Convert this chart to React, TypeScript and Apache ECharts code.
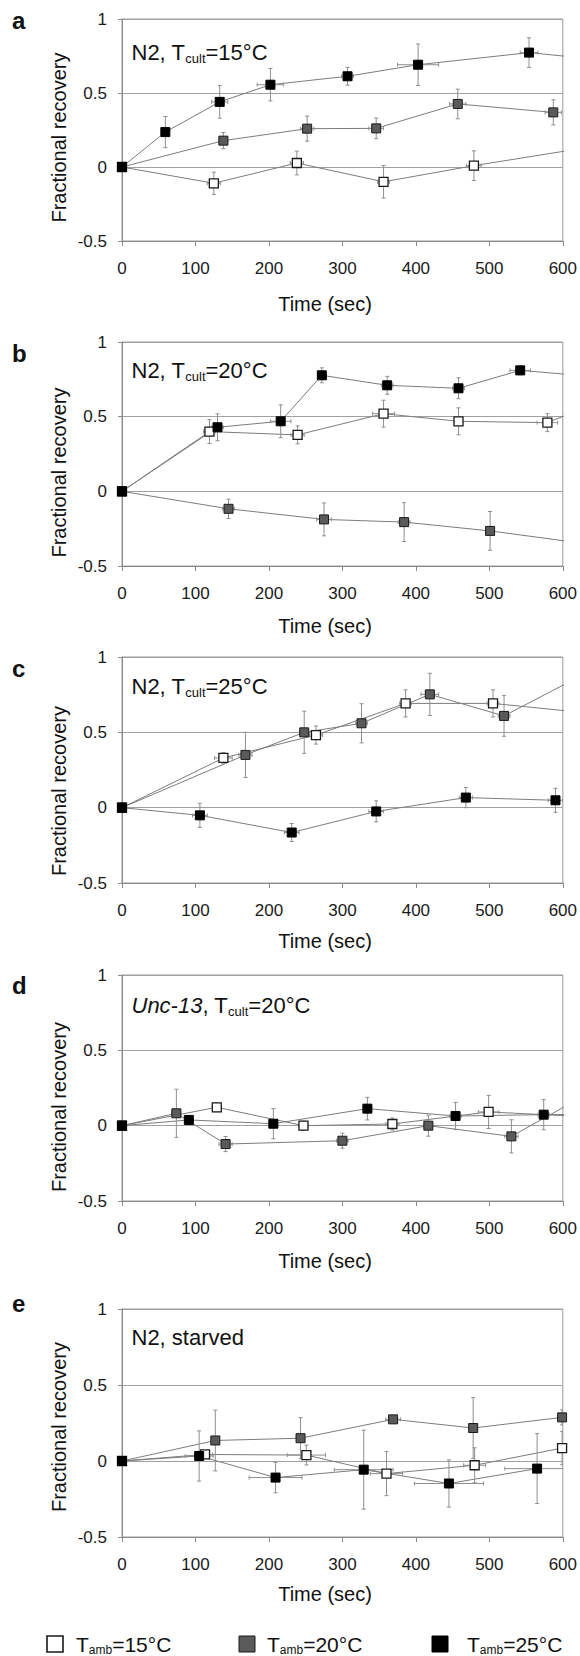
import React, { useEffect, useRef } from "react";
import * as echarts from "echarts";

// [time (s), fractional recovery, y error, x error]
type Pt = [number, number, number, number];

// Panel a: N2, Tcult=15°C
const a15: Pt[] = [[0, 0, 0, 0], [125, -0.11, 0.075, 9], [238, 0.027, 0.08, 9], [356, -0.1, 0.11, 8], [479, 0.009, 0.1, 10], [625, 0.125, 0, 0]];
const a20: Pt[] = [[0, 0, 0, 0], [138, 0.178, 0.055, 6], [252, 0.259, 0.085, 9], [346, 0.261, 0.07, 10], [457, 0.426, 0.1, 11], [587, 0.369, 0.085, 11]];
const a25: Pt[] = [[0, 0, 0, 0], [59, 0.236, 0.105, 0], [133, 0.44, 0.11, 11], [202, 0.556, 0.11, 18], [307, 0.613, 0.06, 8], [403, 0.691, 0.14, 28], [554, 0.773, 0.1, 12], [650, 0.725, 0, 0]];

// Panel b: N2, Tcult=20°C
const b15: Pt[] = [[0, 0, 0, 0], [119, 0.4, 0.08, 8], [239, 0.378, 0.06, 9], [356, 0.52, 0.09, 15], [458, 0.469, 0.09, 6], [579, 0.46, 0.06, 14], [620, 0.54, 0, 0]];
const b20: Pt[] = [[0, 0, 0, 0], [145, -0.117, 0.065, 8], [275, -0.188, 0.11, 10], [384, -0.206, 0.13, 8], [501, -0.265, 0.13, 6], [650, -0.363, 0, 0]];
const b25: Pt[] = [[0, 0, 0, 0], [130, 0.429, 0.09, 8], [216, 0.469, 0.11, 14], [272, 0.777, 0.05, 5], [361, 0.71, 0.06, 8], [458, 0.69, 0.07, 8], [542, 0.81, 0.03, 14], [650, 0.765, 0, 0]];

// Panel c: N2, Tcult=25°C
const c15: Pt[] = [[0, 0, 0, 0], [138, 0.33, 0.035, 12], [264, 0.482, 0.06, 9], [386, 0.692, 0.09, 8], [505, 0.692, 0.09, 8], [650, 0.62, 0, 0]];
const c20: Pt[] = [[0, 0, 0, 0], [168, 0.35, 0.15, 9], [248, 0.5, 0.14, 6], [326, 0.56, 0.13, 8], [419, 0.752, 0.14, 12], [520, 0.609, 0.135, 8], [605, 0.825, 0, 0]];
const c25: Pt[] = [[0, 0, 0, 0], [106, -0.051, 0.08, 10], [231, -0.165, 0.06, 10], [346, -0.025, 0.07, 10], [468, 0.067, 0.067, 9], [590, 0.049, 0.08, 10]];

// Panel d: Unc-13, Tcult=20°C
const d15: Pt[] = [[0, 0, 0, 0], [129, 0.122, 0.03, 6], [247, 0, 0.03, 6], [368, 0.011, 0.04, 9], [499, 0.091, 0.11, 14], [650, 0.055, 0, 0]];
const d20: Pt[] = [[0, 0, 0, 0], [74, 0.082, 0.16, 6], [141, -0.122, 0.05, 9], [300, -0.1, 0.05, 8], [417, 0, 0.07, 6], [530, -0.071, 0.11, 9], [602, 0.125, 0.09, 0]];
const d25: Pt[] = [[0, 0, 0, 0], [91, 0.038, 0.03, 6], [206, 0.013, 0.1, 6], [334, 0.113, 0.075, 6], [454, 0.064, 0.09, 8], [574, 0.073, 0.1, 8], [650, 0.075, 0, 0]];

// Panel e: N2, starved
const e15: Pt[] = [[0, 0, 0, 0], [113, 0.043, 0.02, 10], [251, 0.039, 0.065, 26], [360, -0.083, 0.145, 22], [480, -0.028, 0.115, 15], [599, 0.085, 0.11, 5]];
const e20: Pt[] = [[0, 0, 0, 0], [127, 0.135, 0.2, 5], [243, 0.15, 0.135, 5], [369, 0.274, 0.02, 10], [478, 0.217, 0.2, 6], [599, 0.287, 0.05, 5]];
const e25: Pt[] = [[0, 0, 0, 0], [105, 0.033, 0.165, 19], [209, -0.109, 0.1, 36], [329, -0.057, 0.26, 40], [445, -0.148, 0.155, 47], [565, -0.05, 0.23, 44]];

const panelLetters = ["a", "b", "c", "d", "e"];
const panelNotes = [
  "N2, T{s|cult}=15°C",
  "N2, T{s|cult}=20°C",
  "N2, T{s|cult}=25°C",
  "{i|Unc-13}, T{s|cult}=20°C",
  "N2, starved",
];
const panelSeries: Pt[][][] = [
  [a15, a20, a25],
  [b15, b20, b25],
  [c15, c20, c25],
  [d15, d20, d25],
  [e15, e20, e25],
];
const legendLabels = ["T{s|amb}=15°C", "T{s|amb}=20°C", "T{s|amb}=25°C"];
const xAxisName = "Time (sec)";
const yAxisName = "Fractional recovery";
const xMin = 0, xMax = 600, xStep = 100;
const yMin = -0.5, yMax = 1, yStep = 0.5;

// Layout (pixels)
const gridLeft = 122;
const gridWidth = 441;
const gridTops = [19, 342, 657, 975, 1309];
const gridHeights = [222, 224, 226, 226, 228];
const letterY = [20, 353, 668, 985, 1303];
const noteY = [52.5, 370.5, 686, 1005, 1337];
const xNameY = [304, 625.5, 941, 1261, 1594];
const yNameY = [137.5, 472.5, 791, 1107, 1427];

const FONT = "'Liberation Sans', Arial, Helvetica, sans-serif";
const markerFill = ["#ffffff", "#5a5a5a", "#000000"];
const markerBorder = ["#1a1a1a", "#1a1a1a", "#000000"];

export default function App() {
  const ref = useRef<HTMLDivElement>(null);

  useEffect(() => {
    if (!ref.current) return;
    const chart = echarts.init(ref.current, null, { renderer: "svg" });

    const grids: any[] = [];
    const xAxes: any[] = [];
    const yAxes: any[] = [];
    const series: any[] = [];
    const graphics: any[] = [];

    const errRender = (params: any, api: any) => {
      const t = api.value(0);
      const v = api.value(1);
      const ey = api.value(2);
      const ex = api.value(3);
      const children: any[] = [];
      const st = { stroke: "#8f8f8f", lineWidth: 1 };
      const cap = 2;
      if (ey > 0) {
        const p1 = api.coord([t, v + ey]);
        const p2 = api.coord([t, v - ey]);
        children.push({ type: "line", shape: { x1: p1[0], y1: p1[1], x2: p2[0], y2: p2[1] }, style: st });
        children.push({ type: "line", shape: { x1: p1[0] - cap, y1: p1[1], x2: p1[0] + cap, y2: p1[1] }, style: st });
        children.push({ type: "line", shape: { x1: p2[0] - cap, y1: p2[1], x2: p2[0] + cap, y2: p2[1] }, style: st });
      }
      if (ex > 0) {
        const q1 = api.coord([t - ex, v]);
        const q2 = api.coord([t + ex, v]);
        children.push({ type: "line", shape: { x1: q1[0], y1: q1[1], x2: q2[0], y2: q2[1] }, style: st });
        children.push({ type: "line", shape: { x1: q1[0], y1: q1[1] - cap, x2: q1[0], y2: q1[1] + cap }, style: st });
        children.push({ type: "line", shape: { x1: q2[0], y1: q2[1] - cap, x2: q2[0], y2: q2[1] + cap }, style: st });
      }
      return { type: "group", children };
    };

    panelSeries.forEach((sets, i) => {
      grids.push({
        left: gridLeft,
        top: gridTops[i],
        width: gridWidth,
        height: gridHeights[i],
        show: true,
        borderColor: "#9a9a9a",
        borderWidth: 1,
        backgroundColor: "transparent",
      });
      xAxes.push({
        gridIndex: i,
        type: "value",
        min: xMin,
        max: xMax,
        interval: xStep,
        axisLine: { show: true, onZero: false, lineStyle: { color: "#8a8a8a", width: 1 } },
        axisTick: { show: true, length: 5, lineStyle: { color: "#8a8a8a" } },
        axisLabel: { fontSize: 17, color: "#1a1a1a", margin: 19, fontFamily: FONT },
        splitLine: { show: false },
      });
      yAxes.push({
        gridIndex: i,
        type: "value",
        min: yMin,
        max: yMax,
        interval: yStep,
        axisLine: { show: true, onZero: false, lineStyle: { color: "#8a8a8a", width: 1 } },
        axisTick: { show: true, length: 4, lineStyle: { color: "#8a8a8a" } },
        axisLabel: { fontSize: 17, color: "#1a1a1a", margin: 15, fontFamily: FONT },
        splitLine: { show: true, lineStyle: { color: "#a0a0a0", width: 1 } },
      });

      sets.forEach((pts, k) => {
        series.push({
          type: "line",
          xAxisIndex: i,
          yAxisIndex: i,
          data: pts.map((p) => [p[0], p[1]]),
          symbol: "none",
          lineStyle: { color: "#7c7c7c", width: 1 },
          z: 2,
          clip: true,
          silent: true,
        });
        series.push({
          type: "custom",
          xAxisIndex: i,
          yAxisIndex: i,
          data: pts.filter((p) => p[2] > 0 || p[3] > 0),
          encode: { x: 0, y: 1 },
          renderItem: errRender,
          clip: true,
          z: 3,
          silent: true,
        });
      });
      sets.forEach((pts, k) => {
        series.push({
          type: "scatter",
          xAxisIndex: i,
          yAxisIndex: i,
          data: pts.map((p) => [p[0], p[1]]),
          symbol: "rect",
          symbolSize: 9,
          itemStyle: {
            color: markerFill[k],
            borderColor: markerBorder[k],
            borderWidth: k === 0 ? 1.3 : 1,
            opacity: 1,
          },
          z: 4 + k,
          clip: true,
          silent: true,
        });
      });

      graphics.push({
        type: "text",
        left: undefined,
        x: 12,
        y: letterY[i],
        style: {
          text: panelLetters[i],
          font: `bold 24px ${FONT}`,
          fill: "#111",
          align: "left",
          verticalAlign: "middle",
        },
      });
      graphics.push({
        type: "text",
        x: 131.5,
        y: noteY[i],
        style: {
          text: panelNotes[i],
          fontSize: 22,
          fontFamily: FONT,
          fill: "#111",
          align: "left",
          verticalAlign: "middle",
          rich: {
            s: { fontSize: 13, fontFamily: FONT, fill: "#111", padding: [12, 0, 0, 0] },
            i: { fontSize: 22, fontFamily: FONT, fontStyle: "italic", fill: "#111" },
          },
        },
      });
      graphics.push({
        type: "text",
        x: 325,
        y: xNameY[i],
        style: {
          text: xAxisName,
          fontSize: 20,
          fontFamily: FONT,
          fill: "#111",
          align: "center",
          verticalAlign: "middle",
        },
      });
      graphics.push({
        type: "text",
        x: 59,
        y: yNameY[i],
        rotation: Math.PI / 2,
        style: {
          text: yAxisName,
          fontSize: 20,
          fontFamily: FONT,
          fill: "#111",
          align: "center",
          verticalAlign: "middle",
        },
      });
    });

    // Legend
    const legendSquareX = [47, 239, 432];
    const legendTextX = [76, 267, 467];
    legendLabels.forEach((lab, k) => {
      graphics.push({
        type: "rect",
        shape: { x: legendSquareX[k], y: 1636, width: 16, height: 16 },
        style: { fill: markerFill[k], stroke: markerBorder[k], lineWidth: k === 0 ? 1.6 : 1 },
      });
      graphics.push({
        type: "text",
        x: legendTextX[k],
        y: 1644,
        style: {
          text: lab,
          fontSize: 21,
          fontFamily: FONT,
          fill: "#111",
          align: "left",
          verticalAlign: "middle",
          rich: {
            s: { fontSize: 12, fontFamily: FONT, fill: "#111", padding: [12, 0, 0, 0] },
          },
        },
      });
    });

    chart.setOption({
      animation: false,
      backgroundColor: "#ffffff",
      textStyle: { fontFamily: FONT },
      grid: grids,
      xAxis: xAxes,
      yAxis: yAxes,
      series,
      graphic: graphics,
    });

    return () => {
      chart.dispose();
    };
  }, []);

  return (
    <div
      ref={ref}
      style={{ position: "absolute", left: 0, top: 0, width: 580, height: 1656 }}
    />
  );
}
